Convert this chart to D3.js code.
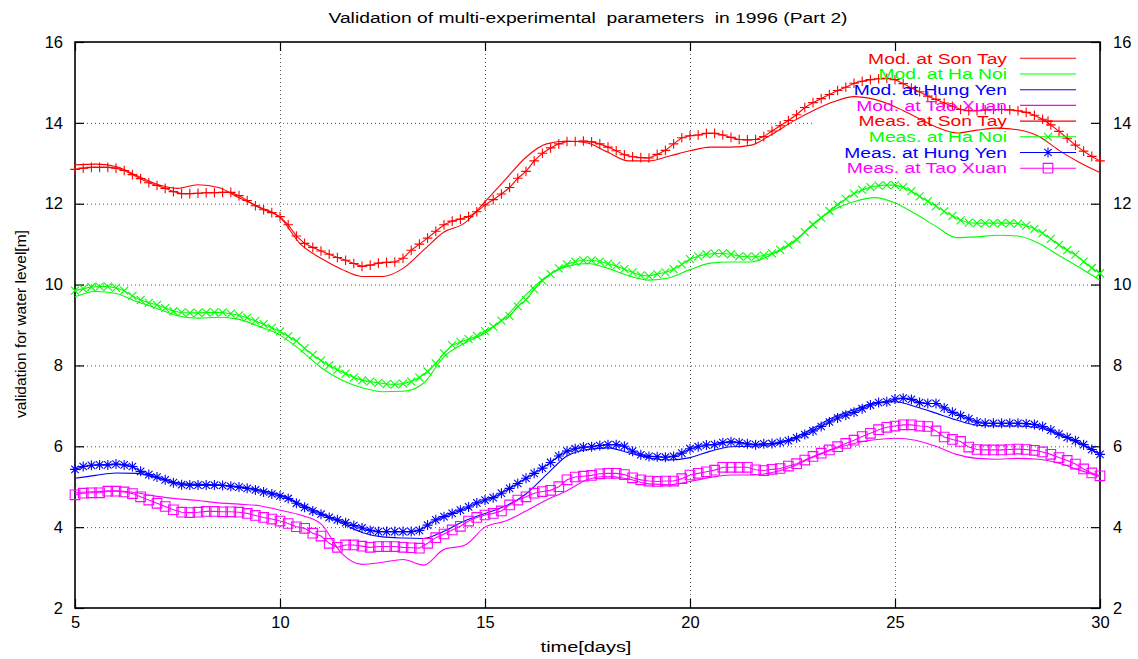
<!DOCTYPE html>
<html>
<head>
<meta charset="utf-8">
<script src="https://cdn.jsdelivr.net/npm/d3@7"></script>
<style>
body { margin: 0; background: #fff; }
text { font-family: "Liberation Sans", Arial, sans-serif; fill: #000; }
</style>
</head>
<body>
<script>
var width = 1138;
var height = 659;

// axis ticks
var xTicks = [5, 10, 15, 20, 25, 30];
var yTicks = [2, 4, 6, 8, 10, 12, 14, 16];

// model output every 0.5 day, measurements every 0.2 day
var modDays = d3.range(51).map(function(i) { return 5 + i * 0.5; });
var measDays = d3.range(126).map(function(i) { return +(5 + i * 0.2).toFixed(1); });

var modSonTay = [12.96, 12.98, 12.92, 12.7, 12.48, 12.38, 12.47, 12.4, 12.15, 11.92,
  11.66, 11.0, 10.65, 10.38, 10.2, 10.2, 10.4, 10.85, 11.3, 11.52,
  12.05, 12.6, 13.15, 13.48, 13.55, 13.5, 13.27, 13.06, 13.06, 13.18,
  13.31, 13.4, 13.4, 13.45, 13.72, 14.03, 14.3, 14.52, 14.65, 14.58,
  14.4, 14.15, 13.9, 13.75, 13.82, 13.87, 13.83, 13.67, 13.32, 13.02,
  12.77];
var modHaNoi = [9.7, 9.83, 9.78, 9.58, 9.41, 9.23, 9.17, 9.19, 9.14, 8.96,
  8.75, 8.38, 7.95, 7.64, 7.45, 7.35, 7.36, 7.56, 8.22, 8.55,
  8.8, 9.2, 9.75, 10.2, 10.45, 10.52, 10.4, 10.22, 10.11, 10.17,
  10.37, 10.53, 10.56, 10.56, 10.75, 11.02, 11.5, 11.85, 12.05, 12.15,
  12.02, 11.75, 11.44, 11.16, 11.18, 11.22, 11.2, 11.02, 10.72, 10.42,
  10.11];
var modHungYen = [5.21, 5.28, 5.34, 5.33, 5.22, 5.1, 5.06, 5.05, 5.0, 4.92,
  4.8, 4.58, 4.35, 4.1, 3.87, 3.76, 3.73, 3.72, 3.9, 4.15,
  4.34, 4.52, 4.82, 5.3, 5.76, 5.92, 5.96, 5.84, 5.71, 5.66,
  5.72, 5.88, 5.99, 6.0, 6.04, 6.2, 6.45, 6.72, 6.91, 7.07,
  7.1, 6.98, 6.82, 6.65, 6.52, 6.5, 6.5, 6.46, 6.29, 6.06,
  5.81];
var modTaoXuan = [4.85, 4.88, 4.9, 4.85, 4.76, 4.7, 4.66, 4.6, 4.57, 4.53,
  4.42, 4.3, 4.08, 3.36, 3.08, 3.13, 3.2, 3.06, 3.45, 3.55,
  4.0, 4.15, 4.4, 4.67, 4.9, 5.18, 5.26, 5.19, 5.07, 5.05,
  5.13, 5.23, 5.29, 5.29, 5.35, 5.5, 5.73, 5.93, 6.07, 6.16,
  6.2, 6.15, 6.0, 5.8, 5.7, 5.68, 5.7, 5.68, 5.58, 5.41,
  5.25];

var measSonTay = [12.85, 12.88, 12.9, 12.9, 12.9, 12.88, 12.82, 12.72, 12.62, 12.52,
  12.45, 12.38, 12.3, 12.25, 12.25, 12.26, 12.27, 12.27, 12.28, 12.28,
  12.2, 12.08, 11.95, 11.85, 11.78, 11.68, 11.48, 11.2, 11.02, 10.92,
  10.83, 10.75, 10.67, 10.6, 10.52, 10.45, 10.48, 10.53, 10.55, 10.56,
  10.65, 10.85, 11.0, 11.15, 11.32, 11.48, 11.57, 11.62, 11.68, 11.8,
  11.97, 12.1, 12.24, 12.4, 12.63, 12.8, 13.06, 13.25, 13.38, 13.48,
  13.54, 13.54, 13.55, 13.53, 13.48, 13.4, 13.31, 13.21, 13.16, 13.14,
  13.13, 13.22, 13.32, 13.48, 13.63, 13.68, 13.7, 13.74, 13.74, 13.7,
  13.64, 13.59, 13.58, 13.59, 13.66, 13.8, 13.93, 14.06, 14.2, 14.38,
  14.5, 14.6, 14.7, 14.8, 14.88, 14.98, 15.03, 15.07, 15.09, 15.1,
  15.07, 14.97, 14.86, 14.77, 14.66, 14.58, 14.49, 14.41, 14.33, 14.3,
  14.3, 14.32, 14.33, 14.33, 14.32, 14.3, 14.26, 14.19, 14.09, 13.95,
  13.79, 13.62, 13.45, 13.3, 13.17, 13.06];
var measHaNoi = [9.85, 9.9, 9.94, 9.95, 9.95, 9.92, 9.85, 9.72, 9.62, 9.55,
  9.5, 9.42, 9.34, 9.31, 9.3, 9.3, 9.31, 9.31, 9.31, 9.28,
  9.24, 9.18, 9.1, 9.02, 8.93, 8.84, 8.72, 8.6, 8.42, 8.26,
  8.12, 8.0, 7.89, 7.8, 7.7, 7.63, 7.6, 7.57, 7.54, 7.53,
  7.55, 7.6, 7.7, 7.85, 8.05, 8.3, 8.5, 8.58, 8.65, 8.73,
  8.85, 8.96, 9.11, 9.22, 9.46, 9.62, 9.88, 10.1, 10.26, 10.4,
  10.5, 10.57, 10.6, 10.6, 10.57, 10.52, 10.46, 10.38, 10.3, 10.23,
  10.21, 10.26, 10.3, 10.38, 10.5, 10.63, 10.7, 10.75, 10.77, 10.77,
  10.75, 10.7, 10.69, 10.69, 10.72, 10.77, 10.86, 10.98, 11.12, 11.3,
  11.48, 11.65, 11.82, 11.98, 12.12, 12.25, 12.34, 12.41, 12.45, 12.46,
  12.46, 12.41, 12.31, 12.18, 12.06, 11.94, 11.81, 11.7, 11.59, 11.53,
  11.52, 11.52, 11.52, 11.52, 11.52, 11.51, 11.46, 11.38, 11.27, 11.13,
  10.98, 10.85, 10.74, 10.57, 10.41, 10.28];
var measHungYen = [5.43, 5.5, 5.53, 5.54, 5.54, 5.56, 5.54, 5.5, 5.38, 5.3,
  5.24, 5.17, 5.1, 5.05, 5.04, 5.04, 5.04, 5.04, 5.03, 5.01,
  4.99, 4.96, 4.92, 4.87, 4.82, 4.77, 4.71, 4.59, 4.49, 4.4,
  4.32, 4.24, 4.18, 4.11, 4.04, 3.98, 3.92, 3.89, 3.89, 3.89,
  3.89, 3.89, 3.92, 4.05, 4.18, 4.26, 4.34, 4.42, 4.5, 4.6,
  4.67, 4.73, 4.84, 4.96, 5.08, 5.21, 5.33, 5.46, 5.6, 5.76,
  5.88, 5.94, 5.98, 5.99, 6.02, 6.04, 6.04, 6.0, 5.88, 5.79,
  5.75, 5.74, 5.73, 5.75, 5.83, 5.94, 5.99, 6.03, 6.04, 6.09,
  6.11, 6.09, 6.06, 6.04, 6.06, 6.07, 6.1, 6.14, 6.21, 6.29,
  6.38, 6.49, 6.6, 6.7, 6.77, 6.84, 6.93, 7.02, 7.08, 7.1,
  7.17, 7.19, 7.16, 7.08, 7.06, 7.06, 6.95, 6.84, 6.76, 6.68,
  6.6, 6.57, 6.57, 6.57, 6.57, 6.57, 6.56, 6.54, 6.49, 6.4,
  6.3, 6.22, 6.14, 6.04, 5.92, 5.8];
var measTaoXuan = [4.8, 4.84, 4.85, 4.85, 4.89, 4.89, 4.87, 4.83, 4.75, 4.67,
  4.59, 4.51, 4.43, 4.37, 4.36, 4.37, 4.39, 4.39, 4.38, 4.38,
  4.37, 4.34, 4.29, 4.24, 4.2, 4.15, 4.09, 4.01, 3.97, 3.85,
  3.78, 3.6, 3.5, 3.56, 3.56, 3.53, 3.5, 3.52, 3.52, 3.52,
  3.5, 3.49, 3.48, 3.6, 3.74, 3.83, 3.93, 4.02, 4.15, 4.24,
  4.3, 4.34, 4.4, 4.55, 4.67, 4.75, 4.84, 4.88, 4.91, 5.0,
  5.17, 5.24, 5.26, 5.28, 5.32, 5.33, 5.33, 5.3, 5.22, 5.17,
  5.14, 5.13, 5.14, 5.14, 5.2, 5.29, 5.33, 5.37, 5.41, 5.48,
  5.48, 5.48, 5.48, 5.42, 5.4, 5.43, 5.45, 5.51, 5.57, 5.66,
  5.75, 5.83, 5.91, 5.99, 6.07, 6.15, 6.24, 6.32, 6.41, 6.47,
  6.5, 6.53, 6.53, 6.5, 6.49, 6.38, 6.23, 6.17, 6.12, 5.98,
  5.92, 5.91, 5.91, 5.91, 5.92, 5.93, 5.92, 5.9, 5.86, 5.8,
  5.72, 5.65, 5.56, 5.44, 5.34, 5.27];

var series = [
  {name: 'Mod. at Son Tay',    color: '#ff0000', days: modDays,  values: modSonTay,   marker: null},
  {name: 'Mod. at Ha Noi',     color: '#00ff00', days: modDays,  values: modHaNoi,    marker: null},
  {name: 'Mod. at Hung Yen',   color: '#0000ff', days: modDays,  values: modHungYen,  marker: null},
  {name: 'Mod. at Tao Xuan',   color: '#ff00ff', days: modDays,  values: modTaoXuan,  marker: null},
  {name: 'Meas. at Son Tay',   color: '#ff0000', days: measDays, values: measSonTay,  marker: 'plus'},
  {name: 'Meas. at Ha Noi',    color: '#00ff00', days: measDays, values: measHaNoi,   marker: 'cross'},
  {name: 'Meas. at Hung Yen',  color: '#0000ff', days: measDays, values: measHungYen, marker: 'star'},
  {name: 'Meas. at Tao Xuan',  color: '#ff00ff', days: measDays, values: measTaoXuan, marker: 'box'}
];

var plot = {left: 75, right: 1100, top: 42, bottom: 608};
var keyBox = {left: 812, bottom: 178};   // grid is not drawn under the key
var textScale = 1.33;                    // the original text is wider than tall

var svg = d3.select('body').append('svg')
    .attr('width', width)
    .attr('height', height);

var x = d3.scaleLinear().domain([5, 30]).range([plot.left, plot.right]);
var y = d3.scaleLinear().domain([2, 16]).range([plot.bottom, plot.top]);

// dotted grid
var grid = svg.append('g')
    .attr('stroke', '#555')
    .attr('stroke-width', 1)
    .attr('stroke-dasharray', '1,3');

grid.selectAll('.hg')
    .data(yTicks.slice(1, -1))
  .enter().append('line')
    .attr('x1', plot.left)
    .attr('x2', function(d) { return y(d) < keyBox.bottom ? keyBox.left : plot.right; })
    .attr('y1', function(d) { return y(d) + 0.5; })
    .attr('y2', function(d) { return y(d) + 0.5; });

grid.selectAll('.vg')
    .data(xTicks.slice(1, -1))
  .enter().append('line')
    .attr('x1', function(d) { return x(d) + 0.5; })
    .attr('x2', function(d) { return x(d) + 0.5; })
    .attr('y1', function(d) { return x(d) > keyBox.left ? keyBox.bottom : plot.top; })
    .attr('y2', plot.bottom);

// axes with inward ticks
function styleAxis(g) {
  g.select('.domain').remove();
  g.selectAll('.tick line').attr('stroke', '#000').attr('stroke-width', 1.2);
  g.selectAll('.tick text')
      .style('font-size', '16.5px')
      .style('font-family', '"Liberation Sans", Arial, sans-serif')
      .attr('fill', '#000');
}

svg.append('g')
    .attr('transform', 'translate(0,' + plot.bottom + ')')
    .call(d3.axisBottom(x).tickValues(xTicks).tickSize(-9).tickPadding(8))
    .call(styleAxis);

svg.append('g')
    .attr('transform', 'translate(0,' + plot.top + ')')
    .call(d3.axisTop(x).tickValues(xTicks).tickSize(-9).tickFormat(''))
    .call(styleAxis);

svg.append('g')
    .attr('transform', 'translate(' + plot.left + ',0)')
    .call(d3.axisLeft(y).tickValues(yTicks).tickSize(-9).tickPadding(12))
    .call(styleAxis);

svg.append('g')
    .attr('transform', 'translate(' + plot.right + ',0)')
    .call(d3.axisRight(y).tickValues(yTicks).tickSize(-9).tickPadding(13))
    .call(styleAxis);

svg.append('rect')
    .attr('x', plot.left)
    .attr('y', plot.top)
    .attr('width', plot.right - plot.left)
    .attr('height', plot.bottom - plot.top)
    .attr('fill', 'none')
    .attr('stroke', '#000')
    .attr('stroke-width', 1.6);

// point symbols, gnuplot style
function symbol(type) {
  if (type === 'plus') { var s = 4.8; return 'M' + -s + ',0H' + s + 'M0,' + -s + 'V' + s; }
  if (type === 'cross') { var c = 4; return 'M' + -c + ',' + -c + 'L' + c + ',' + c + 'M' + -c + ',' + c + 'L' + c + ',' + -c; }
  if (type === 'star') {
    var p = 5, q = 3.7;
    return 'M' + -p + ',0H' + p + 'M0,' + -p + 'V' + p +
      'M' + -q + ',' + -q + 'L' + q + ',' + q + 'M' + -q + ',' + q + 'L' + q + ',' + -q;
  }
  var b = 4.8;
  return 'M' + -b + ',' + -b + 'H' + b + 'V' + b + 'H' + -b + 'Z';
}

var curves = svg.append('g');

series.forEach(function(s) {
  var pts = s.days.map(function(d, i) { return [d, s.values[i]]; });
  var line = d3.line()
      .x(function(d) { return x(d[0]); })
      .y(function(d) { return y(d[1]); })
      .curve(s.marker ? d3.curveLinear : d3.curveMonotoneX);

  curves.append('path')
      .datum(pts)
      .attr('d', line)
      .attr('fill', 'none')
      .attr('stroke', s.color)
      .attr('stroke-width', 1.1);

  if (s.marker) {
    curves.append('g').selectAll('path')
        .data(pts)
      .enter().append('path')
        .attr('transform', function(d) { return 'translate(' + x(d[0]) + ',' + y(d[1]) + ')'; })
        .attr('d', symbol(s.marker))
        .attr('fill', 'none')
        .attr('stroke', s.color)
        .attr('stroke-width', 1.1);
  }
});

// key, top right
var key = svg.append('g');
var keyRow = function(i) { return 58.3 + i * 15.7; };

series.forEach(function(s, i) {
  var ry = keyRow(i);
  key.append('text')
      .attr('transform', 'translate(1007,' + ry + ') scale(' + textScale + ',1)')
      .attr('text-anchor', 'end')
      .attr('dy', '0.36em')
      .style('font-size', '14.5px')
      .style('fill', s.color)
      .text(s.name);
  key.append('line')
      .attr('x1', 1020).attr('x2', 1076)
      .attr('y1', ry).attr('y2', ry)
      .attr('stroke', s.color)
      .attr('stroke-width', 1.1);
  if (s.marker) {
    key.append('path')
        .attr('transform', 'translate(1048,' + ry + ')')
        .attr('d', symbol(s.marker))
        .attr('fill', 'none')
        .attr('stroke', s.color)
        .attr('stroke-width', 1.1);
  }
});

// title and axis labels
svg.append('text')
    .attr('transform', 'translate(588,18) scale(' + textScale + ',1)')
    .attr('text-anchor', 'middle')
    .attr('dy', '0.36em')
    .style('font-size', '14.5px')
    .style('white-space', 'pre')
    .text('Validation of multi-experimental  parameters  in 1996 (Part 2)');

svg.append('text')
    .attr('transform', 'translate(586,647) scale(' + textScale + ',1)')
    .attr('text-anchor', 'middle')
    .attr('dy', '0.36em')
    .style('font-size', '15px')
    .text('time[days]');

svg.append('text')
    .attr('transform', 'translate(20,324) rotate(-90)')
    .attr('text-anchor', 'middle')
    .attr('dy', '0.36em')
    .style('font-size', '15.5px')
    .text('validation for water level[m]');
</script>
</body>
</html>
